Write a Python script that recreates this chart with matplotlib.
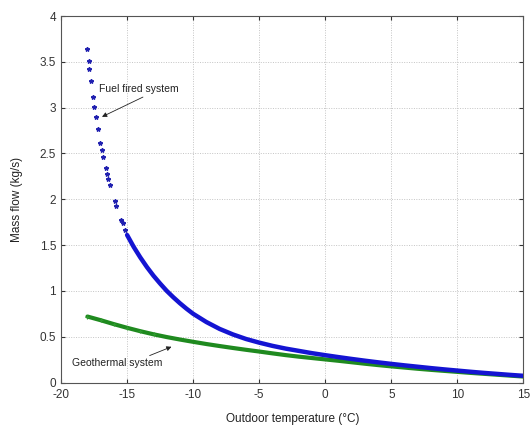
import matplotlib
matplotlib.use("Agg")
import matplotlib.pyplot as plt

plt.rcParams['font.family'] = ['Liberation Sans', 'DejaVu Sans']
plt.rcParams['axes.unicode_minus'] = False

# fuel fired system: sparse points at very low outdoor temperatures
fuel_sparse_T = [-18.02, -17.92, -17.87, -17.75, -17.60, -17.47, -17.37, -17.22,
                 -17.04, -16.92, -16.82, -16.62, -16.52, -16.44, -16.32, -15.95,
                 -15.82, -15.44, -15.32, -15.14]
fuel_sparse_m = [3.645, 3.506, 3.419, 3.296, 3.113, 3.012, 2.895, 2.768,
                 2.619, 2.539, 2.462, 2.339, 2.273, 2.219, 2.157, 1.979,
                 1.928, 1.772, 1.736, 1.663]

# fuel fired system: dense part of the curve
fuel_T = [-15, -14.5, -14, -13.5, -13, -12.5, -12, -11.5, -11, -10.5, -10, -9, -8,
          -7, -6, -5, -4, -3, -2, -1, 0, 1, 2, 3, 4, 5, 6, 7, 8, 9, 10, 11, 12,
          13, 14, 15]
fuel_m = [1.61, 1.48, 1.365, 1.26, 1.165, 1.08, 1.00, 0.93, 0.865, 0.805, 0.75,
          0.66, 0.585, 0.525, 0.475, 0.435, 0.40, 0.37, 0.345, 0.32, 0.298,
          0.277, 0.257, 0.238, 0.22, 0.203, 0.187, 0.172, 0.157, 0.143, 0.13,
          0.117, 0.105, 0.094, 0.083, 0.073]

# geothermal system
geo_T = [-18, -17, -16, -15, -14, -13, -12, -11, -10, -9, -8, -7, -6, -5, -4, -3,
         -2, -1, 0, 1, 2, 3, 4, 5, 6, 7, 8, 9, 10, 11, 12, 13, 14, 15]
geo_m = [0.72, 0.68, 0.637, 0.597, 0.56, 0.526, 0.496, 0.469, 0.444, 0.42, 0.398,
         0.377, 0.357, 0.338, 0.318, 0.299, 0.282, 0.267, 0.252, 0.237, 0.221,
         0.205, 0.19, 0.176, 0.163, 0.15, 0.138, 0.127, 0.116, 0.105, 0.095,
         0.085, 0.075, 0.065]

x_ticks = [-20, -15, -10, -5, 0, 5, 10, 15]
y_ticks = [0, 0.5, 1, 1.5, 2, 2.5, 3, 3.5, 4]
y_ticklabels = ['0', '0.5', '1', '1.5', '2', '2.5', '3', '3.5', '4']

blue = '#1414d2'
green = '#1f8a1f'

fig = plt.figure(figsize=(5.32, 4.28), dpi=100)
ax = fig.add_axes([0.1147, 0.1063, 0.8693, 0.8563])

ax.plot(fuel_T, fuel_m, color=blue, lw=3.2, solid_capstyle='round', zorder=3)
ax.plot(fuel_sparse_T, fuel_sparse_m, ls='none', marker='*', ms=3.2,
        color='#2020b0', zorder=3)
ax.plot(geo_T, geo_m, color=green, lw=3.0, solid_capstyle='round', zorder=2)
ax.plot(geo_T[:6], geo_m[:6], ls='none', marker='+', ms=3, mew=0.8,
        color='#2e9a2e', zorder=2)

ax.set_xlim(-20, 15)
ax.set_ylim(0, 4)
ax.set_xticks(x_ticks)
ax.set_yticks(y_ticks)
ax.set_yticklabels(y_ticklabels)
ax.grid(True, ls=(0, (1, 1.5)), color='#c4c4c4', lw=0.7)
ax.tick_params(direction='in', length=3, labelsize=8.5, colors='#333333',
               top=True, right=True)
ax.tick_params(axis='x', pad=5)
for s in ax.spines.values():
    s.set_color('#555555')
    s.set_linewidth(0.8)

ax.set_xlabel('Outdoor temperature (°C)', fontsize=8.5, color='#222222', labelpad=8)
ax.set_ylabel('Mass flow (kg/s)', fontsize=8.5, color='#222222', labelpad=12)

ax.annotate('Fuel fired system', xy=(-16.9, 2.90), xytext=(-17.1, 3.20),
            fontsize=7.5, color='#222222', va='center', ha='left',
            arrowprops=dict(arrowstyle='-|>', color='#222222', lw=0.6,
                            mutation_scale=7, shrinkA=0, shrinkB=0,
                            relpos=(0.62, 0.0)))
ax.annotate('Geothermal system', xy=(-11.64, 0.39), xytext=(-19.15, 0.209),
            fontsize=7.5, color='#222222', va='center', ha='left',
            arrowprops=dict(arrowstyle='-|>', color='#222222', lw=0.6,
                            mutation_scale=7, shrinkA=0, shrinkB=0,
                            relpos=(0.78, 1.0)))

fig.savefig('out.png', dpi=100)
